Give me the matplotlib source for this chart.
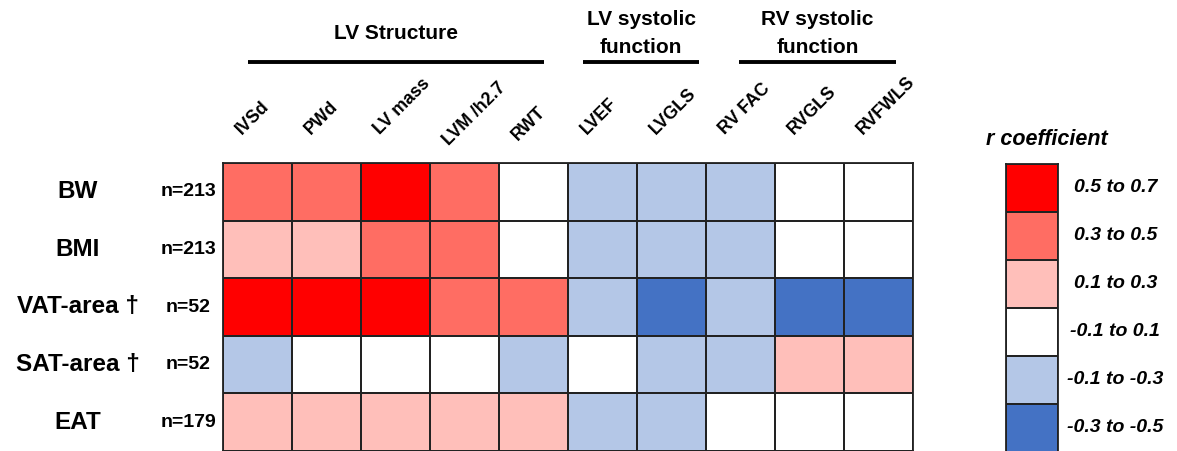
import matplotlib
matplotlib.use("Agg")
import matplotlib.pyplot as plt
import numpy as np
from matplotlib.colors import ListedColormap, BoundaryNorm
from matplotlib.transforms import blended_transform_factory

plt.rcParams['font.family'] = ['Liberation Sans', 'DejaVu Sans']

rows = ["BW", "BMI", "VAT-area \u2020", "SAT-area \u2020", "EAT"]
n_labels = ["n=213", "n=213", "n=52", "n=52", "n=179"]
cols = ["IVSd", "PWd", "LV mass", "LVM /h2.7", "RWT",
        "LVEF", "LVGLS", "RV FAC", "RVGLS", "RVFWLS"]
groups = ["LV Structure", "LV systolic\nfunction", "RV systolic\nfunction"]

# r coefficient bins, strongest positive first
bin_labels = ["0.5 to 0.7", "0.3 to 0.5", "0.1 to 0.3",
              "-0.1 to 0.1", "-0.1 to -0.3", "-0.3 to -0.5"]
bin_colors = ["#FF0000", "#FF6D63", "#FFBFBA", "#FFFFFF", "#B4C7E7", "#4472C4"]
# cell values as bin index: 3 = 0.5..0.7 ... -2 = -0.3..-0.5
r_bins = np.array([
    [2, 2, 3, 2, 0, -1, -1, -1, 0, 0],
    [1, 1, 2, 2, 0, -1, -1, -1, 0, 0],
    [3, 3, 3, 2, 2, -1, -2, -1, -2, -2],
    [-1, 0, 0, 0, -1, 0, -1, -1, 1, 1],
    [1, 1, 1, 1, 1, -1, -1, 0, 0, 0],
])
bin_values = [3, 2, 1, 0, -1, -2]

cmap = ListedColormap(bin_colors[::-1])
norm = BoundaryNorm(np.arange(-2.5, 4.5, 1), cmap.N)

W, H = 1177, 451
fig = plt.figure(figsize=(W / 100, H / 100), dpi=100)

ax = fig.add_axes([223 / W, 0.0 / H, 690 / W, 288 / H])
ax.pcolormesh(np.arange(len(cols) + 1), np.arange(len(rows) + 1), r_bins,
              cmap=cmap, norm=norm, edgecolors="#222222", linewidth=1.3)
ax.set_xlim(0, len(cols))
ax.set_ylim(len(rows), 0)
ax.set_xticks([])
ax.set_yticks([])
for s in ax.spines.values():
    s.set_linewidth(1.3)
    s.set_color("#222222")

# row names and sample sizes
ty = blended_transform_factory(fig.transFigure, ax.transData)
for i, (name, n) in enumerate(zip(rows, n_labels)):
    ax.text(78 / W, i + 0.5, name, transform=ty, ha="center", va="center",
            fontsize=17.5, fontweight="bold", clip_on=False)
    ax.text(188 / W, i + 0.5, n, transform=ty, ha="center", va="center",
            fontsize=14, fontweight="bold", clip_on=False)

# rotated column names (a few sit a little lower)
tx = blended_transform_factory(ax.transData, fig.transFigure)
drop = {"LVM /h2.7": 11, "RWT": 6}
for j, c in enumerate(cols):
    ax.text(j + 0.28, (H - 135 - drop.get(c, 0)) / H, c, transform=tx,
            rotation=45, rotation_mode="anchor", ha="left", va="baseline",
            fontsize=12.8, fontweight="bold", clip_on=False)

# group headers with underlines
line_spans = [(0.36, 4.65), (5.22, 6.9), (7.48, 9.75)]
for g, (x0, x1) in zip(groups, line_spans):
    ax.text((x0 + x1) / 2, (H - 33.5) / H, g, transform=tx, ha="center",
            va="center", fontsize=15, fontweight="bold", linespacing=1.6,
            clip_on=False)
    ax.plot([x0, x1], [(H - 62) / H] * 2, transform=tx, color="black",
            lw=2.8, clip_on=False, solid_capstyle="butt")

# legend boxes
lax = fig.add_axes([1006 / W, -1 / H, 52 / W, 288 / H])
lax.pcolormesh([0, 1], np.arange(len(bin_values) + 1),
               np.array(bin_values).reshape(-1, 1), cmap=cmap, norm=norm,
               edgecolors="#222222", linewidth=1.3)
lax.set_xlim(0, 1)
lax.set_ylim(len(bin_values), 0)
lax.set_xticks([])
lax.set_yticks([])
for s in lax.spines.values():
    s.set_linewidth(1.3)
    s.set_color("#222222")
for k, lab in enumerate(bin_labels):
    lax.text(2.1, k + 0.5, lab, ha="center", va="center", fontsize=14,
             fontweight="bold", fontstyle="italic", clip_on=False)
lax.text(0.78, -0.3, "r coefficient", ha="center", va="bottom", fontsize=15.5,
         fontweight="bold", fontstyle="italic", clip_on=False)

fig.savefig("out.png", dpi=100)
